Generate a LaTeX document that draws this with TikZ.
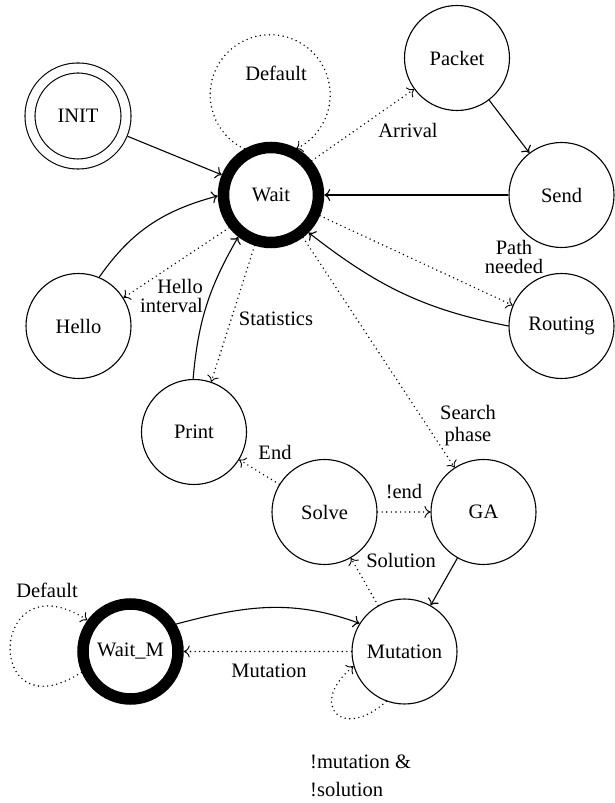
\documentclass[tikz,border=0pt]{standalone}
\usepackage{fontspec}
\setmainfont{Liberation Serif}
\usetikzlibrary{arrows.meta}
\begin{document}
\begin{tikzpicture}[x=1pt,y=1pt,
  every node/.style={font=\fontsize{20.5}{19}\selectfont},
  state/.style={circle,draw,line width=1.1pt,minimum size=105pt,inner sep=0pt},
  heavystate/.style={circle,draw,line width=11.5pt,minimum size=95pt,inner sep=0pt},
  startstate/.style={circle,draw,double,double distance=8.9pt,line width=1.1pt,
    minimum size=96pt,inner sep=0pt,outer sep=5.5pt},
  solidarc/.style={line width=1.1pt,-{To[length=6pt,width=12pt]}},
  dotarc/.style={line width=1.6pt,line cap=round,dash pattern=on 0pt off 4.6pt,
    -{To[length=6pt,width=12pt,line width=0.9pt]}},
  lbl/.style={inner sep=0pt,align=center}
]
\useasboundingbox (0,0) rectangle (614,803);

% states
\node[startstate] (INIT)    at (78,687)    {INIT};
\node[heavystate] (Wait)    at (271,608)   {Wait};
\node[state]      (Packet)  at (457,745)   {Packet};
\node[state]      (Send)    at (561.5,608) {Send};
\node[state]      (Hello)   at (78.5,477)  {Hello};
\node[state]      (Routing) at (561.5,477) {Routing};
\node[state]      (Print)   at (194,371)   {Print};
\node[state]      (Solve)   at (324.5,291) {Solve};
\node[state]      (GA)      at (483.5,291) {GA};
\node[state]      (Mutation) at (404.5,151.5) {Mutation};
\node[heavystate] (WaitM)   at (130.5,151.5) {Wait\_M};

% transitions of the main loop
\draw[solidarc] (INIT) -- (Wait);
\draw[solidarc] (Hello.67) to[out=55,in=195] (Wait.181);
\draw[dotarc] (Wait.218) -- (Hello.32);
\draw[dotarc] (Wait.252) -- (Print.71);
\draw[solidarc] (Print.91) to[out=85,in=240] (Wait.232);
\draw[dotarc] (Wait.120) arc[start angle=244.5, end angle=-64.5, radius=60];
\draw[dotarc] (Wait.40) -- (Packet.216);
\draw[solidarc] (Packet) -- (Send);
\draw[solidarc] (Send) -- (Wait);
\draw[solidarc] (Routing.180) to[out=169,in=-38] (Wait.315);
\draw[dotarc] (Wait.337) -- (Routing.157);
\draw[dotarc] (Wait.307) -- (GA.123);

% genetic algorithm part
\draw[dotarc] (Solve) -- (Print);
\draw[dotarc] (Solve) -- (GA);
\draw[dotarc] (Mutation) -- (Solve);
\draw[solidarc] (GA) -- (Mutation);
\draw[solidarc] (WaitM.31) to[out=15,in=160] (Mutation.148);
\draw[dotarc] (Mutation) -- (WaitM);
\draw[dotarc] (WaitM.203) .. controls +(-99,-64) and +(-99,64) .. (WaitM.144);
\draw[dotarc] (Mutation.250) .. controls +(-44.6,-40.1) and +(-46,-38.6) .. (Mutation.196);

% transition labels
\node[lbl] (tDefault)  at (276,730) {Default};
\node[lbl] (tArrival)  at (408,673) {Arrival};
\node[lbl,align=right,anchor=east] (tHello) at (203,507) {Hello\\interval};
\node[lbl] (tStat)     at (276,484) {Statistics};
\node[lbl] (tPath)     at (514,546) {Path\\needed};
\node[lbl,font=\fontsize{20.5}{22}\selectfont] (tSearch) at (468,377) {Search\\phase};
\node[lbl] (tEnd)      at (275,351) {End};
\node[lbl] (tNotEnd)   at (404,311) {!end};
\node[lbl] (tSolution) at (401,243) {Solution};
\node[lbl] (tMutation) at (269,132) {Mutation};
\node[lbl] (tDefaultM) at (47,213)  {Default};
\node[lbl,align=left,anchor=west,font=\fontsize{20.5}{28}\selectfont] (tNone)
  at (310,27) {!mutation \&\\!solution};
\end{tikzpicture}
\end{document}
